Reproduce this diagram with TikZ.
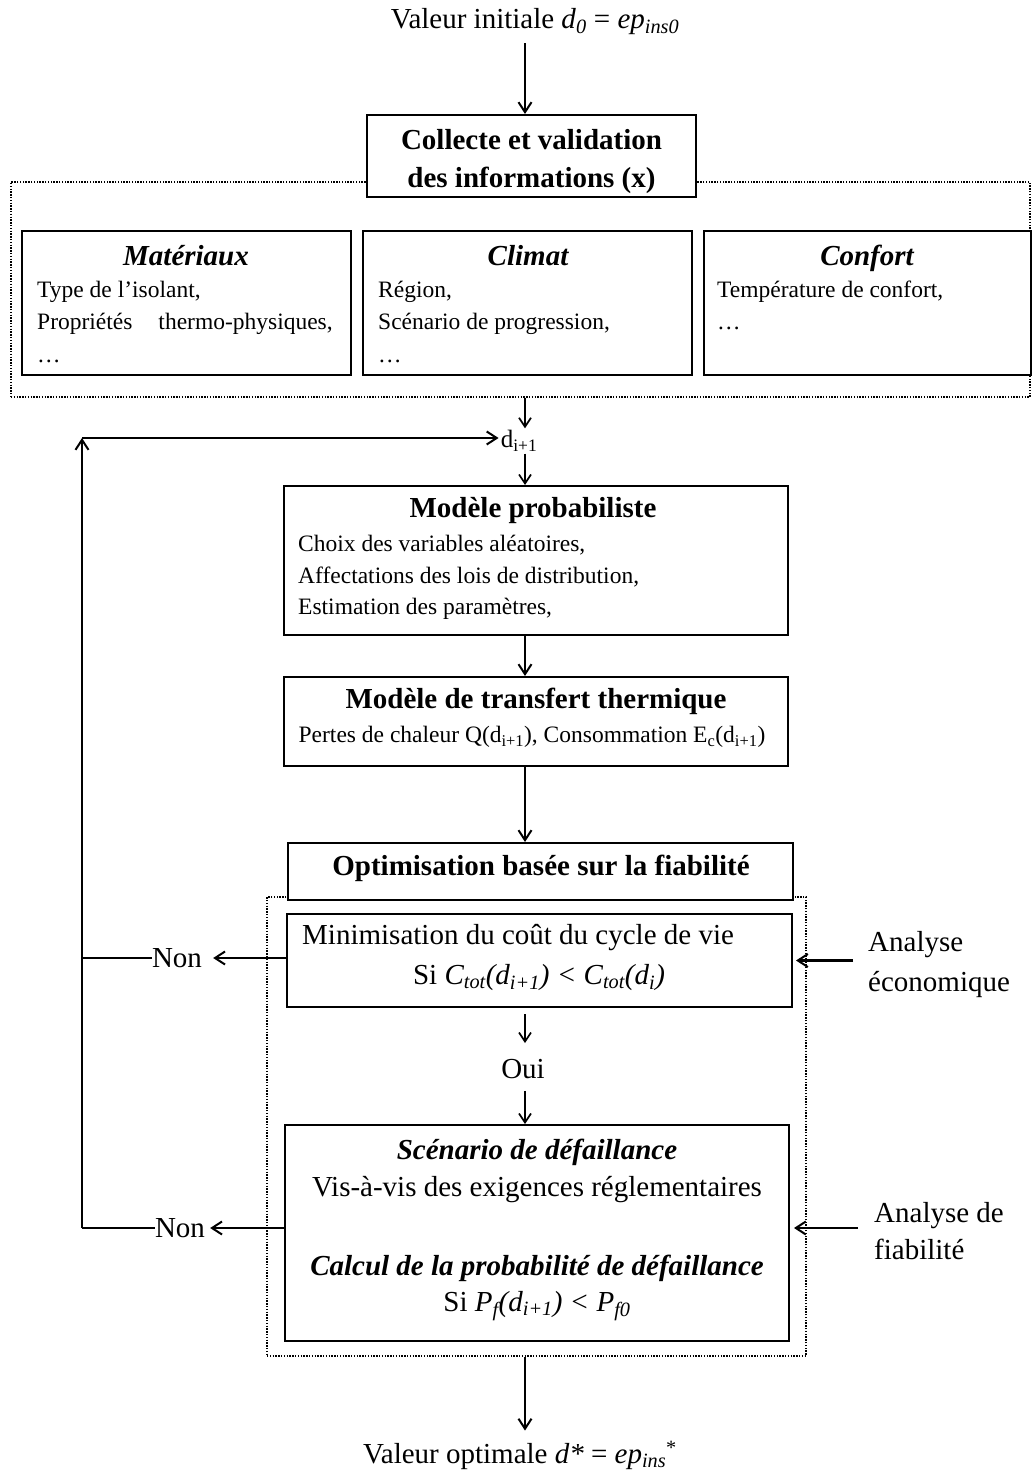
\documentclass[tikz,border=0pt]{standalone}
\usepackage{fontspec}
\setmainfont{Liberation Serif}
\usetikzlibrary{arrows.meta}
\begin{document}
\begin{tikzpicture}[x=1pt,y=-1pt,
 bx/.style={draw, line width=2pt, inner sep=0pt, fill=white},
 dbx/.style={draw, line width=1.3pt, dash pattern=on 1.4pt off 1.4pt, inner sep=0pt},
 arr/.style={line width=2.2pt, -{Straight Barb[length=10pt,width=13pt,line width=2pt]}},
 tarr/.style={line width=1.7pt, -{Straight Barb[length=9pt,width=12pt,line width=1.7pt]}},
 ln/.style={line width=2.2pt},
 big/.style={font=\fontsize{29}{40}\selectfont, inner sep=0pt},
 bigb/.style={font=\bfseries\fontsize{29}{40}\selectfont, inner sep=0pt},
 bigbi/.style={font=\bfseries\itshape\fontsize{29}{40}\selectfont, inner sep=0pt},
 sm/.style={font=\fontsize{23.5}{28}\selectfont, inner sep=0pt, anchor=base west},
 smc/.style={font=\fontsize{23.5}{28}\selectfont, inner sep=0pt},
]
\useasboundingbox (0,0) rectangle (1032,1472);
\coordinate (ax) at (525,0);

% top
\node[big] (init) at (535,22) {Valeur initiale \textit{d}\textsubscript{\textit{0}} = \textit{ep}\textsubscript{\textit{ins0}}};
\node[dbx, minimum width=1019pt, minimum height=215pt] (outer) at (520.5,289.5) {};
\node[bx, minimum width=329pt, minimum height=82pt] (collecte) at (531.5,156) {};
\node[bigb] (colA) at (531.5,140) {Collecte et validation};
\node[bigb] (colB) at (531.5,180) {des informations (x)};

% three boxes
\node[bx, minimum width=329pt, minimum height=144pt] (mat) at (186.5,303) {};
\node[bx, minimum width=329pt, minimum height=144pt] (cli) at (527.5,303) {};
\node[bx, minimum width=327pt, minimum height=144pt] (con) at (867,303) {};
\node[bigbi, anchor=base] (matT) at (186,265) {Matériaux};
\node[sm] (matA) at (37,297) {Type de l’isolant,};
\node[sm] (matB) at (37,329) {Propriétés\hspace{26pt}thermo-physiques,};
\node[sm] (matC) at (37,362) {\dots};
\node[bigbi, anchor=base] (cliT) at (528,265) {Climat};
\node[sm] (cliA) at (378,297) {Région,};
\node[sm] (cliB) at (378,329) {Scénario de progression,};
\node[sm] (cliC) at (378,362) {\dots};
\node[bigbi, anchor=base] (conT) at (867,265) {Confort};
\node[sm] (conA) at (717,297) {Température de confort,};
\node[sm] (conB) at (717,329) {\dots};

% d_{i+1}
\node[font=\fontsize{25}{30}\selectfont, inner sep=0pt] (di) at (519,441) {d\textsubscript{i+1}};

% model boxes
\node[bx, minimum width=504pt, minimum height=149pt] (prob) at (536,560.5) {};
\node[bigb] (probT) at (533,511) {Modèle probabiliste};
\node[sm] (probA) at (298,551) {Choix des variables aléatoires,};
\node[sm] (probB) at (298,583) {Affectations des lois de distribution,};
\node[sm] (probC) at (298,614) {Estimation des paramètres,};

\node[bx, minimum width=504pt, minimum height=89pt] (trans) at (536,721.5) {};
\node[bigb] (transT) at (536,701) {Modèle de transfert thermique};
\node[smc] (transA) at (532,737) {Pertes de chaleur Q(d\textsubscript{i+1}), Consommation E\textsubscript{c}(d\textsubscript{i+1})};

% optimisation
\node[dbx, minimum width=539pt, minimum height=459pt] (optzone) at (536.5,1126.5) {};
\node[bx, minimum width=505pt, minimum height=57pt] (opt) at (540.5,871.5) {};
\node[bigb] (optT) at (541,868) {Optimisation basée sur la fiabilité};

\node[bx, minimum width=505pt, minimum height=93pt] (mini) at (539.5,960.5) {};
\node[big, anchor=west] (miniA) at (302,938) {Minimisation du coût du cycle de vie};
\node[big] (miniB) at (539,978) {Si \textit{C\textsubscript{tot}(d\textsubscript{i+1}) < C\textsubscript{tot}(d\textsubscript{i})}};

\node[big] (oui) at (523,1069) {Oui};

\node[bx, minimum width=504pt, minimum height=216pt] (scen) at (537,1233) {};
\node[bigbi] (scenA) at (537,1152) {Scénario de défaillance};
\node[big] (scenB) at (537,1190) {Vis-à-vis des exigences réglementaires};
\node[bigbi] (scenC) at (537,1268) {Calcul de la probabilité de défaillance};
\node[big] (scenD) at (537,1306) {Si \textit{P\textsubscript{f}(d\textsubscript{i+1}) < P\textsubscript{f0}}};

% side labels
\node[big] (non1) at (177,958) {Non};
\node[big] (non2) at (180,1228) {Non};
\node[big, align=left, anchor=west] (eco) at (868,965) {Analyse\\économique};
\node[big, align=left, anchor=west, font=\fontsize{29}{37}\selectfont] (fia) at (874,1231) {Analyse de\\fiabilité};

% final
\node[big] (final) at (520,1455) {Valeur optimale \textit{d*} = \textit{ep}\textsubscript{\textit{ins}}\textsuperscript{*}};

% connectors
\draw[arr] ([yshift=-8pt]init.south -| ax) -- (collecte.north -| ax);
\draw[tarr] (outer.south -| ax) -- ([yshift=2pt]di.north -| ax);
\draw[tarr] ([yshift=-2pt]di.south -| ax) -- (prob.north -| ax);
\draw[arr] (prob.south -| ax) -- (trans.north -| ax);
\draw[arr] (trans.south -| ax) -- (opt.north -| ax);
\draw[tarr] ([yshift=-6pt]mini.south -| ax) -- ([yshift=16pt]oui.north -| ax);
\draw[tarr] ([yshift=-12pt]oui.south -| ax) -- (scen.north -| ax);
\draw[arr] (optzone.south -| ax) -- ([yshift=10pt]final.north -| ax);

\coordinate (lt) at (82,438);
\coordinate (lb1) at (82,958);
\coordinate (lb2) at (82,1228);
\draw[arr] (lb2) -- (lt);
\draw[arr] (lt) -- ([xshift=-2pt]di.west |- lt);
\draw[ln] (lb1) -- (non1.west |- lb1);
\draw[ln] (lb2) -- (non2.west |- lb2);
\draw[arr] (mini.west |- lb1) -- ([xshift=11pt]non1.east |- lb1);
\draw[arr] (scen.west |- lb2) -- ([xshift=5pt]non2.east |- lb2);
\draw[arr] ([xshift=-15pt]eco.west |- mini.east) -- ([xshift=3pt]mini.east);
\draw[arr] ([xshift=-16pt]fia.west |- lb2) -- ([xshift=4pt]scen.east |- lb2);
\end{tikzpicture}
\end{document}
